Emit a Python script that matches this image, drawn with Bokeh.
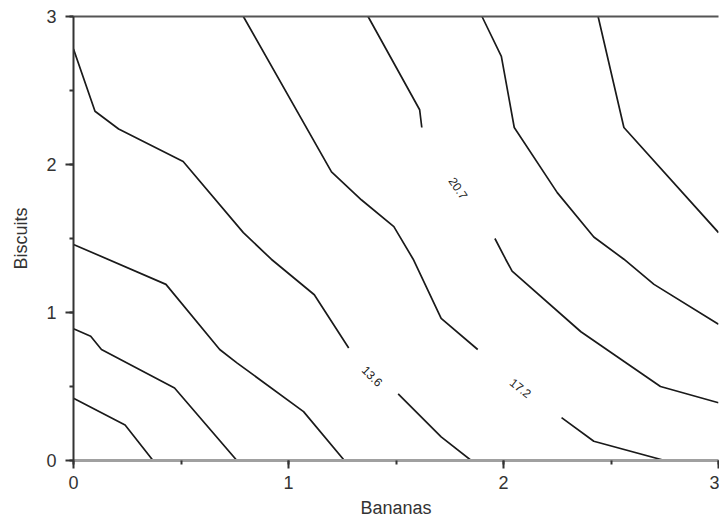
from bokeh.plotting import figure
from bokeh.models import Range1d, SingleIntervalTicker, FixedTicker, LinearAxis, ColumnDataSource
from bokeh.core.properties import value
from bokeh.embed import file_html
from bokeh.resources import INLINE

# ---- data ----
x_label = "Bananas"
y_label = "Biscuits"

c1_x = [0.00, 0.24, 0.37]
c1_y = [0.42, 0.24, 0.00]

c2_x = [0.00, 0.08, 0.13, 0.47, 0.76]
c2_y = [0.89, 0.84, 0.75, 0.49, 0.00]

c3_x = [0.00, 0.43, 0.68, 0.76, 1.07, 1.26]
c3_y = [1.46, 1.19, 0.75, 0.66, 0.33, 0.00]

c4a_x = [0.00, 0.10, 0.21, 0.51, 0.79, 0.92, 1.12, 1.28]
c4a_y = [2.78, 2.36, 2.24, 2.02, 1.54, 1.36, 1.12, 0.76]
c4b_x = [1.51, 1.71, 1.85]
c4b_y = [0.45, 0.16, 0.00]

c5a_x = [0.79, 1.20, 1.34, 1.49, 1.58, 1.71, 1.88]
c5a_y = [3.00, 1.95, 1.76, 1.58, 1.36, 0.96, 0.75]
c5b_x = [2.27, 2.42, 2.75]
c5b_y = [0.29, 0.13, 0.00]

c6a_x = [1.37, 1.61, 1.62]
c6a_y = [3.00, 2.37, 2.25]
c6b_x = [1.96, 2.01, 2.04, 2.36, 2.73, 3.00]
c6b_y = [1.50, 1.36, 1.28, 0.87, 0.50, 0.39]

c7_x = [1.90, 1.99, 2.05, 2.25, 2.42, 2.56, 2.70, 3.00]
c7_y = [3.00, 2.73, 2.25, 1.81, 1.51, 1.36, 1.19, 0.92]

c8_x = [2.44, 2.56, 3.00]
c8_y = [3.00, 2.25, 1.54]

label_text = ["13.6", "17.2", "20.7"]
label_x = [1.39, 2.08, 1.79]
label_y = [0.57, 0.49, 1.84]
label_angle = [-45, -38, -56]

contours_x = [c1_x, c2_x, c3_x, c4a_x, c4b_x, c5a_x, c5b_x, c6a_x, c6b_x, c7_x, c8_x]
contours_y = [c1_y, c2_y, c3_y, c4a_y, c4b_y, c5a_y, c5b_y, c6a_y, c6b_y, c7_y, c8_y]

FONT = "Liberation Sans"

p = figure(width=719, height=520, output_backend="svg", toolbar_location=None,
           x_range=Range1d(0, 3), y_range=Range1d(0, 3),
           min_border_left=73, min_border_right=1, min_border_top=16, min_border_bottom=59,
           x_axis_label=x_label, y_axis_label=y_label)
p.outline_line_color = None
p.grid.visible = False
p.background_fill_color = "white"
p.border_fill_color = "white"

p.multi_line(xs=contours_x, ys=contours_y, line_color="#1a1a1a", line_width=1.7)

src = ColumnDataSource(dict(x=label_x, y=label_y, t=label_text, a=label_angle))
p.text(x="x", y="y", text="t", angle="a", angle_units="deg", source=src,
       text_font=value(FONT), text_font_size="12px", text_color="#222222",
       text_align="center", text_baseline="middle")

for ax in (p.xaxis[0], p.yaxis[0]):
    ax.ticker = SingleIntervalTicker(interval=1, num_minor_ticks=2)
    ax.major_tick_out = 8
    ax.major_tick_in = 0
    ax.minor_tick_out = 4
    ax.minor_tick_in = 0
    ax.major_tick_line_color = "#333333"
    ax.minor_tick_line_color = "#333333"
    ax.major_tick_line_width = 2
    ax.minor_tick_line_width = 2
    ax.major_label_text_font = FONT
    ax.major_label_text_font_size = "18px"
    ax.major_label_text_color = "#333333"
    ax.axis_label_text_font = FONT
    ax.axis_label_text_font_size = "18px"
    ax.axis_label_text_font_style = "normal"
    ax.axis_label_text_color = "#333333"

p.xaxis[0].axis_line_color = "#a0a0a0"
p.xaxis[0].axis_line_width = 3
p.xaxis[0].major_label_standoff = 7
p.xaxis[0].axis_label_standoff = 6
p.yaxis[0].axis_line_color = "#333333"
p.yaxis[0].axis_line_width = 2
p.yaxis[0].major_label_standoff = 9
p.yaxis[0].axis_label_standoff = 12

top = LinearAxis(ticker=FixedTicker(ticks=[]),
                 major_tick_line_color=None, minor_tick_line_color=None,
                 major_label_standoff=0,
                 axis_line_color="#555555", axis_line_width=2)
p.add_layout(top, "above")

open("out.html", "w").write(file_html(p, INLINE))
